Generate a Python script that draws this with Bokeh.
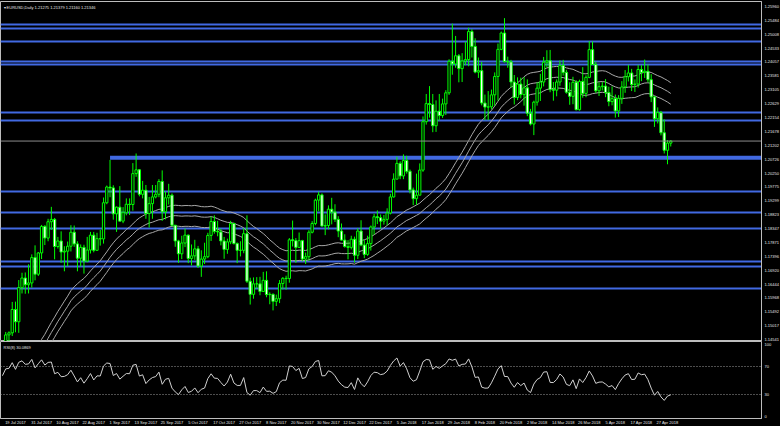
import numpy as np
import pandas as pd
from bokeh.plotting import figure
from bokeh.layouts import column
from bokeh.models import Range1d, FixedTicker, PrintfTickFormatter, Label, Span, ColumnDataSource
from bokeh.embed import file_html
from bokeh.resources import INLINE

symbol = "EURUSD,Daily"

# Daily bars, 13 Jul 2017 .. 30 Apr 2018 (no bars on 25 Dec and 1 Jan)
bar_open = [
    1.1415, 1.1398, 1.1470, 1.1477,
    1.1557, 1.1515, 1.1632, 1.1665, 1.1642, 1.1648, 1.1735, 1.1678, 1.1751,
    1.1842, 1.1802, 1.1858, 1.1866, 1.1773, 1.1792, 1.1754, 1.1757, 1.1774, 1.1822, 1.1782, 1.1733,
    1.1770, 1.1723, 1.1761, 1.1812, 1.1760, 1.1800, 1.1799, 1.1923, 1.1977, 1.1974, 1.1885,
    1.1908, 1.1860, 1.1889, 1.1918, 1.1917, 1.2023, 1.2036, 1.1952, 1.1966, 1.1886, 1.1920,
    1.1943, 1.1952, 1.1996, 1.1892, 1.1940, 1.1949, 1.1846, 1.1792, 1.1748, 1.1785,
    1.1812, 1.1732, 1.1741, 1.1765, 1.1706, 1.1730, 1.1738, 1.1811, 1.1859, 1.1825, 1.1823,
    1.1792, 1.1763, 1.1789, 1.1852, 1.1783, 1.1760, 1.1760, 1.1817, 1.1654, 1.1609, 1.1645,
    1.1645, 1.1619, 1.1657, 1.1608, 1.1609, 1.1585, 1.1594, 1.1646, 1.1664, 1.1663, 1.1796,
    1.1793, 1.1770, 1.1793, 1.1730, 1.1738, 1.1822, 1.1852, 1.1932, 1.1950, 1.1843, 1.1845,
    1.1901, 1.1891, 1.1866, 1.1826, 1.1795, 1.1773, 1.1770, 1.1798, 1.1743, 1.1826, 1.1778,
    1.1746, 1.1783, 1.1840, 1.1875, 1.1872, 1.1860, 1.1866, 1.1888, 1.1943,
    1.2004, 1.2058, 1.2015, 1.2068, 1.2031, 1.1967, 1.1937, 1.1949, 1.2035, 1.2201, 1.2263,
    1.2260, 1.2187, 1.2237, 1.2222, 1.2262, 1.2300, 1.2408, 1.2399, 1.2427, 1.2383, 1.2409,
    1.2414, 1.2510, 1.2459, 1.2371, 1.2376, 1.2265, 1.2251, 1.2252, 1.2293, 1.2356, 1.2449,
    1.2505, 1.2407, 1.2406, 1.2337, 1.2284, 1.2330, 1.2294, 1.2317, 1.2230,
    1.2193, 1.2268, 1.2316, 1.2337, 1.2405, 1.2410, 1.2311, 1.2309, 1.2337, 1.2394, 1.2370,
    1.2302, 1.2288, 1.2336, 1.2242, 1.2339, 1.2298, 1.2353, 1.2448, 1.2397, 1.2307, 1.2321,
    1.2323, 1.2301, 1.2270, 1.2280, 1.2238, 1.2281, 1.2320, 1.2355, 1.2368, 1.2328, 1.2330,
    1.2380, 1.2370, 1.2374, 1.2345, 1.2286, 1.2211, 1.2232, 1.2163, 1.2103, 1.21275,
]
bar_high = [
    1.1448, 1.1480, 1.1482, 1.1583,
    1.1584, 1.1658, 1.1683, 1.1684, 1.1712, 1.1746, 1.1777, 1.1754, 1.1847,
    1.1846, 1.1868, 1.1909, 1.1871, 1.1806, 1.1825, 1.1774, 1.1790, 1.1846, 1.1845, 1.1791, 1.1780,
    1.1779, 1.1806, 1.1823, 1.1823, 1.1820, 1.1830, 1.1941, 1.1982, 1.2070, 1.1983, 1.1910,
    1.1980, 1.1908, 1.1938, 1.1938, 1.2059, 1.2092, 1.2038, 1.1998, 1.1984, 1.1943, 1.1984,
    1.1984, 1.2004, 1.2034, 1.1961, 1.1988, 1.1955, 1.1847, 1.1796, 1.1810, 1.1835,
    1.1814, 1.1780, 1.1796, 1.1775, 1.1760, 1.1786, 1.1820, 1.1876, 1.1880, 1.1861, 1.1834,
    1.1806, 1.1800, 1.1861, 1.1855, 1.1787, 1.1791, 1.1836, 1.1880, 1.1666, 1.1667, 1.1668,
    1.1669, 1.1686, 1.1688, 1.1616, 1.1612, 1.1608, 1.1658, 1.1668, 1.1673, 1.1802, 1.1862,
    1.1802, 1.1821, 1.1796, 1.1752, 1.1829, 1.1860, 1.1937, 1.1961, 1.1955, 1.1883, 1.1914,
    1.1940, 1.1918, 1.1877, 1.1852, 1.1815, 1.1795, 1.1810, 1.1807, 1.1836, 1.1863, 1.1795,
    1.1810, 1.1845, 1.1885, 1.1897, 1.1883, 1.1881, 1.1904, 1.1954, 1.2024,
    1.2081, 1.2065, 1.2089, 1.2084, 1.2037, 1.1975, 1.2023, 1.2058, 1.2219, 1.2296, 1.2323,
    1.2296, 1.2274, 1.2296, 1.2280, 1.2309, 1.2415, 1.2537, 1.2495, 1.2433, 1.2436, 1.2475,
    1.2523, 1.2518, 1.2487, 1.2421, 1.2406, 1.2294, 1.2306, 1.2311, 1.2370, 1.2469, 1.2510,
    1.2556, 1.2424, 1.2413, 1.2361, 1.2353, 1.2352, 1.2354, 1.2346, 1.2245,
    1.2273, 1.2336, 1.2365, 1.2423, 1.2446, 1.2447, 1.2337, 1.2346, 1.2411, 1.2413, 1.2379,
    1.2336, 1.2355, 1.2343, 1.2345, 1.2388, 1.2360, 1.2477, 1.2476, 1.2407, 1.2336, 1.2337,
    1.2347, 1.2321, 1.2322, 1.2294, 1.2292, 1.2340, 1.2378, 1.2396, 1.2382, 1.2346, 1.2396,
    1.2395, 1.2414, 1.2397, 1.2364, 1.2289, 1.2250, 1.2238, 1.2209, 1.2138, 1.21379,
]
bar_low = [
    1.1392, 1.1372, 1.1440, 1.1466,
    1.1479, 1.1477, 1.1612, 1.1611, 1.1612, 1.1632, 1.1657, 1.1672, 1.1730,
    1.1778, 1.1791, 1.1830, 1.1729, 1.1766, 1.1717, 1.1688, 1.1705, 1.1756, 1.1772, 1.1688, 1.1705,
    1.1680, 1.1719, 1.1749, 1.1753, 1.1758, 1.1776, 1.1783, 1.1918, 1.1942, 1.1865, 1.1823,
    1.1860, 1.1853, 1.1880, 1.1881, 1.1896, 1.2012, 1.1945, 1.1938, 1.1868, 1.1838, 1.1868,
    1.1938, 1.1942, 1.1861, 1.1866, 1.1917, 1.1842, 1.1772, 1.1717, 1.1730, 1.1771,
    1.1716, 1.1708, 1.1727, 1.1700, 1.1669, 1.1713, 1.1733, 1.1792, 1.1817, 1.1808, 1.1777,
    1.1731, 1.1748, 1.1781, 1.1780, 1.1716, 1.1739, 1.1750, 1.1648, 1.1574, 1.1594, 1.1630,
    1.1606, 1.1617, 1.1599, 1.1575, 1.1554, 1.1569, 1.1579, 1.1626, 1.1625, 1.1649, 1.1773,
    1.1717, 1.1768, 1.1722, 1.1713, 1.1724, 1.1818, 1.1846, 1.1894, 1.1842, 1.1812, 1.1832,
    1.1849, 1.1857, 1.1805, 1.1793, 1.1769, 1.1729, 1.1763, 1.1718, 1.1730, 1.1774, 1.1733,
    1.1741, 1.1759, 1.1814, 1.1850, 1.1834, 1.1848, 1.1846, 1.1883, 1.1941,
    1.2004, 1.2004, 1.2004, 1.2023, 1.1955, 1.1915, 1.1916, 1.1953, 1.2029, 1.2191, 1.2215,
    1.2165, 1.2166, 1.2205, 1.2214, 1.2224, 1.2293, 1.2362, 1.2386, 1.2336, 1.2337, 1.2395,
    1.2391, 1.2421, 1.2367, 1.2351, 1.2257, 1.2206, 1.2206, 1.2243, 1.2256, 1.2273, 1.2446,
    1.2404, 1.2386, 1.2319, 1.2260, 1.2275, 1.2281, 1.2256, 1.2220, 1.2188,
    1.2155, 1.2256, 1.2272, 1.2322, 1.2388, 1.2302, 1.2273, 1.2288, 1.2324, 1.2359, 1.2297,
    1.2259, 1.2261, 1.2240, 1.2239, 1.2283, 1.2285, 1.2350, 1.2396, 1.2300, 1.2289, 1.2308,
    1.2285, 1.2254, 1.2257, 1.2215, 1.2217, 1.2262, 1.2300, 1.2339, 1.2306, 1.2303, 1.2318,
    1.2340, 1.2351, 1.2336, 1.2268, 1.2183, 1.2195, 1.2154, 1.2092, 1.2055, 1.21160,
]
bar_close = [
    1.1398, 1.1470, 1.1477, 1.1557,
    1.1515, 1.1632, 1.1665, 1.1642, 1.1648, 1.1735, 1.1678, 1.1751, 1.1842,
    1.1802, 1.1858, 1.1866, 1.1773, 1.1792, 1.1754, 1.1757, 1.1774, 1.1822, 1.1782, 1.1733, 1.1770,
    1.1723, 1.1761, 1.1812, 1.1760, 1.1800, 1.1799, 1.1923, 1.1977, 1.1974, 1.1885, 1.1908,
    1.1860, 1.1889, 1.1918, 1.1917, 1.2023, 1.2036, 1.1952, 1.1966, 1.1886, 1.1920, 1.1943,
    1.1952, 1.1996, 1.1892, 1.1940, 1.1949, 1.1846, 1.1792, 1.1748, 1.1785, 1.1812,
    1.1732, 1.1741, 1.1765, 1.1706, 1.1730, 1.1738, 1.1811, 1.1859, 1.1825, 1.1823, 1.1792,
    1.1763, 1.1789, 1.1852, 1.1783, 1.1760, 1.1760, 1.1817, 1.1654, 1.1609, 1.1645, 1.1645,
    1.1619, 1.1657, 1.1608, 1.1609, 1.1585, 1.1594, 1.1646, 1.1664, 1.1663, 1.1796, 1.1793,
    1.1770, 1.1793, 1.1730, 1.1738, 1.1822, 1.1852, 1.1932, 1.1950, 1.1843, 1.1845, 1.1901,
    1.1891, 1.1866, 1.1826, 1.1795, 1.1773, 1.1770, 1.1798, 1.1743, 1.1826, 1.1778, 1.1746,
    1.1783, 1.1840, 1.1875, 1.1872, 1.1860, 1.1866, 1.1888, 1.1943, 1.2004,
    1.2058, 1.2015, 1.2068, 1.2031, 1.1967, 1.1937, 1.1949, 1.2035, 1.2201, 1.2263, 1.2260,
    1.2187, 1.2237, 1.2222, 1.2262, 1.2300, 1.2408, 1.2399, 1.2427, 1.2383, 1.2409, 1.2414,
    1.2510, 1.2459, 1.2371, 1.2376, 1.2265, 1.2251, 1.2252, 1.2293, 1.2356, 1.2449, 1.2505,
    1.2407, 1.2406, 1.2337, 1.2284, 1.2330, 1.2294, 1.2317, 1.2230, 1.2193,
    1.2268, 1.2316, 1.2337, 1.2405, 1.2410, 1.2311, 1.2309, 1.2337, 1.2394, 1.2370, 1.2302,
    1.2288, 1.2336, 1.2242, 1.2339, 1.2298, 1.2353, 1.2448, 1.2397, 1.2307, 1.2321, 1.2323,
    1.2301, 1.2270, 1.2280, 1.2238, 1.2281, 1.2320, 1.2355, 1.2368, 1.2328, 1.2330, 1.2380,
    1.2370, 1.2374, 1.2345, 1.2286, 1.2211, 1.2232, 1.2163, 1.2103, 1.21275, 1.21346,
]

# Closes before the first drawn bar, used to seed the averages and the RSI
prior_close = [
    1.0903, 1.0932, 1.0887, 1.0985, 1.0997, 1.0927, 1.0875, 1.0868, 1.0865, 1.0932,
    1.0981, 1.1079, 1.1158, 1.1101, 1.1207, 1.1241, 1.1185, 1.1215, 1.1215, 1.1184,
    1.1165, 1.1185, 1.1243, 1.1214, 1.1281, 1.1250, 1.1278, 1.1259, 1.1211, 1.1196,
    1.1200, 1.1211, 1.1216, 1.1150, 1.1197, 1.1150, 1.1132, 1.1166, 1.1151, 1.1195,
    1.1180, 1.1336, 1.1377, 1.1442, 1.1424, 1.1363, 1.1347, 1.1353, 1.1424, 1.1400,
    1.1401, 1.1464, 1.1415,
]

# Horizontal support / resistance levels
sr_levels = [1.2533, 1.2520, 1.2477, 1.2408, 1.2396, 1.2232, 1.2204,
             1.1961, 1.1889, 1.1834, 1.1723, 1.1704, 1.1630]
key_level = 1.2077
key_level_start = "2017-08-29"

price_ticks = [1.25960, 1.25484, 1.25008, 1.24533, 1.24057, 1.23581, 1.23105, 1.22629,
               1.22154, 1.21678, 1.21202, 1.20726, 1.20250, 1.19775, 1.19299, 1.18823,
               1.18347, 1.17871, 1.17396, 1.16920, 1.16444, 1.15968, 1.15492, 1.15017, 1.14541]
time_labels = ["19 Jul 2017", "31 Jul 2017", "10 Aug 2017", "22 Aug 2017", "1 Sep 2017",
               "13 Sep 2017", "25 Sep 2017", "5 Oct 2017", "17 Oct 2017", "27 Oct 2017",
               "8 Nov 2017", "20 Nov 2017", "30 Nov 2017", "12 Dec 2017", "22 Dec 2017",
               "5 Jan 2018", "17 Jan 2018", "29 Jan 2018", "8 Feb 2018", "20 Feb 2018",
               "2 Mar 2018", "14 Mar 2018", "26 Mar 2018", "5 Apr 2018", "17 Apr 2018",
               "27 Apr 2018"]
rsi_ticks = [0, 30, 70, 100]
rsi_levels = [30, 70]
ma_period = 34
envelope_pct = [0.3, 0.0, -0.3]
rsi_period = 8

# ---------------------------------------------------------------- derived series
dates = pd.bdate_range("2017-07-13", "2018-04-30")
dates = dates.drop(pd.to_datetime(["2017-12-25", "2018-01-01"]))
n = len(bar_close)
idx = np.arange(n)
o = np.array(bar_open); h = np.array(bar_high); l = np.array(bar_low); c = np.array(bar_close)

all_close = pd.Series(prior_close + bar_close)
k0 = len(prior_close)
sma = all_close.rolling(ma_period, min_periods=1).mean().to_numpy()[k0:]
bands = [sma * (1 + e / 100.0) for e in envelope_pct]


def wilder_rsi(values, period):
    v = np.asarray(values, dtype=float)
    d = np.diff(v)
    up = np.clip(d, 0, None)
    dn = np.clip(-d, 0, None)
    out = np.full(len(v), np.nan)
    au = up[:period].mean()
    ad = dn[:period].mean()
    out[period] = 100 - 100 / (1 + au / ad)
    for i in range(period, len(d)):
        au = (au * (period - 1) + up[i]) / period
        ad = (ad * (period - 1) + dn[i]) / period
        out[i + 1] = 100 - 100 / (1 + au / ad)
    return out


rsi = wilder_rsi(all_close, rsi_period)[k0:]

# ---------------------------------------------------------------- styling
BG = "black"
GREEN = "#00ff00"
BLUE = "#4169e1"
FG = "#e6e6e6"
FRAME = "#bdbdbd"
FONT = "Liberation Sans"
FS = "4px"

px_per_bar = 3.26
x_start = -0.6
x_end = x_start + 761 / px_per_bar
y_lo, y_hi = 1.14473, 1.26131


def style_axis(a):
    a.major_label_text_color = FG
    a.major_label_text_font = FONT
    a.major_label_text_font_size = FS
    a.major_tick_out = 0
    a.major_tick_in = 0
    a.minor_tick_out = 0
    a.minor_tick_in = 0
    a.axis_line_color = FRAME


# ---------------------------------------------------------------- price panel
p = figure(frame_width=761, frame_height=340, min_border_top=1, min_border_left=0,
           min_border_bottom=0, min_border_right=19,
           x_range=Range1d(x_start, x_end), y_range=Range1d(y_lo, y_hi),
           x_axis_location=None, y_axis_location="right",
           output_backend="svg", toolbar_location=None,
           background_fill_color=BG, border_fill_color=BG)
p.grid.visible = False
p.outline_line_color = FRAME
ax = p.yaxis[0]
ax.ticker = FixedTicker(ticks=price_ticks)
ax.formatter = PrintfTickFormatter(format="%.5f")
style_axis(ax)
ax.major_label_standoff = 3

# support / resistance lines
p.hspan(y=sr_levels, line_color=BLUE, line_width=2)
ks = dates.get_loc(pd.Timestamp(key_level_start))
p.segment(x0=[ks], y0=[key_level], x1=[x_end + 5], y1=[key_level], line_color=BLUE, line_width=4)

# moving average envelope
for b in bands:
    p.line(idx, b, line_color="#a8a8a8", line_width=1)

# candles
bull = c >= o
src = ColumnDataSource(dict(x=idx, high=h, low=l, top=np.maximum(o, c), bottom=np.minimum(o, c),
                            fill=np.where(bull, "black", "white")))
p.segment(x0="x", y0="low", x1="x", y1="high", source=src, line_color=GREEN, line_width=1)
p.vbar(x="x", width=0.7, top="top", bottom="bottom", fill_color="fill", line_color=GREEN,
       line_width=1, source=src)

# bid line and price tag
p.add_layout(Span(location=c[-1], dimension="width", line_color="#8c8c8c", line_width=1))
p.add_layout(Label(x=x_end, y=c[-1], text=f"{c[-1]:.5f}", x_offset=1, text_baseline="middle",
                   text_color="black", background_fill_color="white", text_font=FONT,
                   text_font_size=FS, padding=2))
p.add_layout(Label(x=x_start, y=y_hi, x_offset=3, y_offset=-3, text_baseline="top",
                   text=f"\u25be {symbol} {o[-1]:.5f} {h[-1]:.5f} {l[-1]:.5f} {c[-1]:.5f}",
                   text_color=FG, text_font=FONT, text_font_size=FS))

# ---------------------------------------------------------------- RSI panel
r = figure(frame_width=761, frame_height=77, min_border_top=0, min_border_left=0,
           min_border_bottom=0, min_border_right=19,
           x_range=p.x_range, y_range=Range1d(-2.78, 104.17),
           x_axis_location="below", y_axis_location="right",
           output_backend="svg", toolbar_location=None,
           background_fill_color=BG, border_fill_color=BG)
r.grid.visible = False
r.outline_line_color = FRAME
ry = r.yaxis[0]
ry.ticker = FixedTicker(ticks=rsi_ticks)
style_axis(ry)
ry.major_label_standoff = 3

# each date label is centred on its own bar
tick_pos = [int(dates.get_loc(pd.Timestamp(t))) for t in time_labels]
rx = r.xaxis[0]
rx.ticker = FixedTicker(ticks=tick_pos)
rx.major_label_overrides = {tp: t for tp, t in zip(tick_pos, time_labels)}
style_axis(rx)
rx.major_label_standoff = 1

r.hspan(y=rsi_levels, line_color="#9a9a9a", line_width=1, line_dash="1 2")
r.line(idx, rsi, line_color="#d0d0d0", line_width=1)
r.add_layout(Label(x=x_start, y=104.17, x_offset=3, y_offset=-3, text_baseline="top",
                   text=f"RSI({rsi_period}) {rsi[-1]:.4f}", text_color=FG, text_font=FONT,
                   text_font_size=FS))

layout = column(p, r, spacing=0, background=BG)
open("out.html", "w").write(file_html(layout, INLINE))
